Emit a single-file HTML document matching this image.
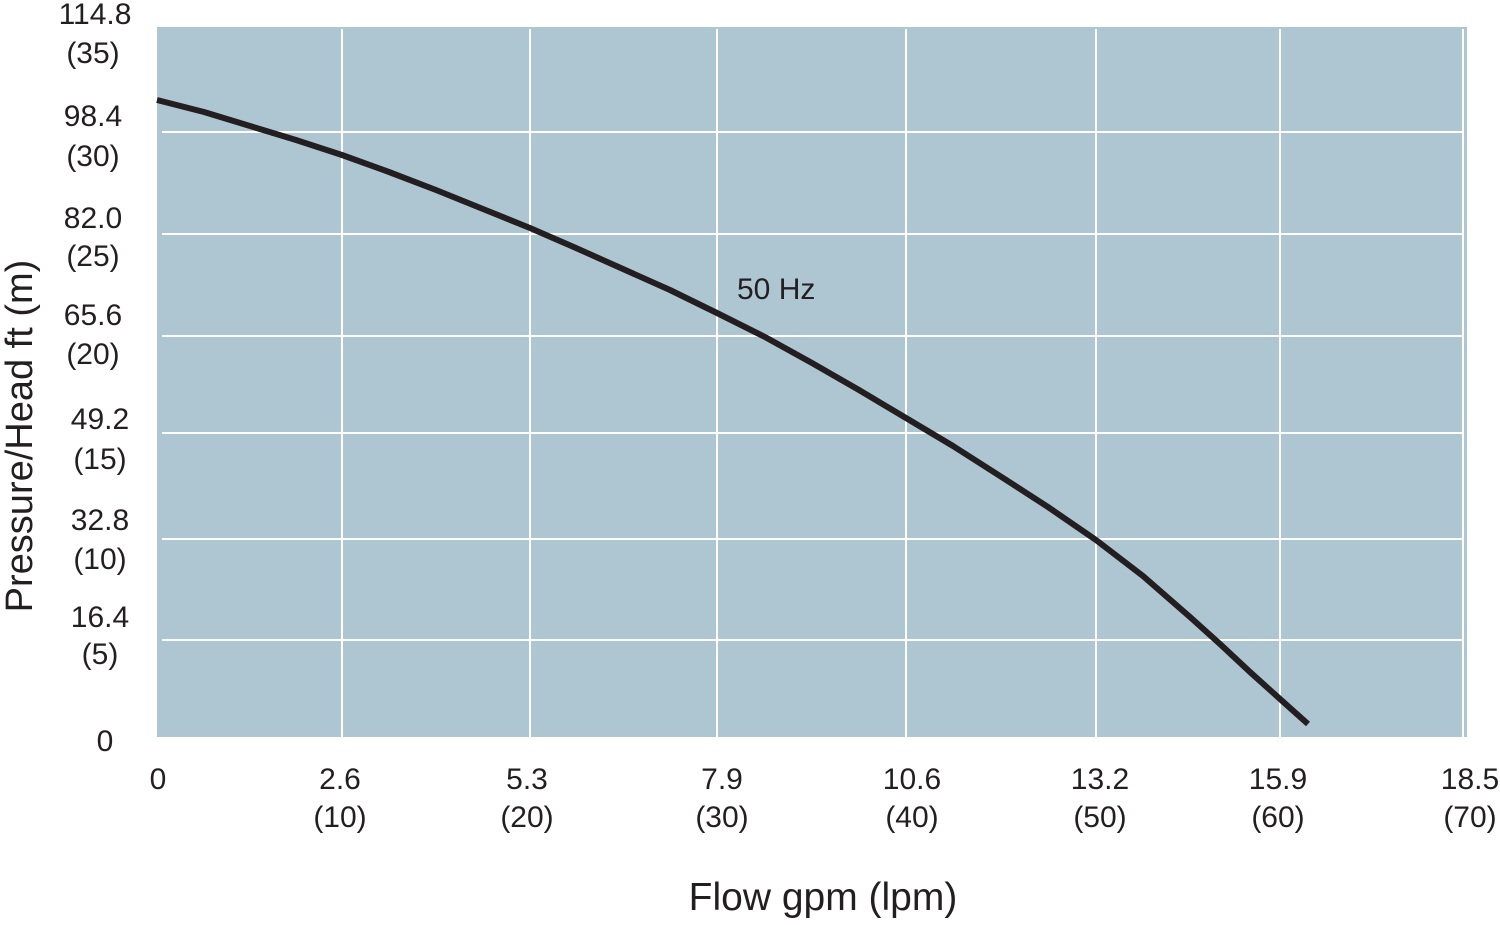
<!DOCTYPE html>
<html><head><style>
body{margin:0;background:#fff;}
svg text{font-family:"Liberation Sans",sans-serif;fill:#231f20;font-size:30px;}
</style></head><body>
<svg width="1500" height="920" xmlns="http://www.w3.org/2000/svg">
<rect x="157" y="27" width="1310" height="710" fill="#aec5d2"/>
<g stroke="#fff" stroke-width="2">
<line x1="342" y1="29" x2="342" y2="737"/>
<line x1="530" y1="29" x2="530" y2="737"/>
<line x1="717" y1="29" x2="717" y2="737"/>
<line x1="906" y1="29" x2="906" y2="737"/>
<line x1="1096" y1="29" x2="1096" y2="737"/>
<line x1="1280" y1="29" x2="1280" y2="737"/>
<line x1="1463" y1="29" x2="1463" y2="737"/>
<line x1="162" y1="132" x2="1463" y2="132"/>
<line x1="162" y1="234" x2="1463" y2="234"/>
<line x1="162" y1="336" x2="1463" y2="336"/>
<line x1="162" y1="433" x2="1463" y2="433"/>
<line x1="162" y1="539" x2="1463" y2="539"/>
<line x1="162" y1="640" x2="1463" y2="640"/>
</g>
<polyline points="157,100 204,112 250,126 296,140 342,155 389,172 436,190 483,209 530,228 576,248 623,269 670,290 717,313 765,337 812,363 859,390 906,418 953,446 1000,476 1048,507 1096,540 1143,576 1190,617 1220,644 1250,672 1280,699 1308,724" fill="none" stroke="#231f20" stroke-width="6" stroke-linejoin="round"/>
<text x="737" y="299">50 Hz</text>
<g text-anchor="middle">
<text x="95" y="24">114.8</text><text x="93" y="63">(35)</text>
<text x="93" y="126">98.4</text><text x="93" y="166">(30)</text>
<text x="93" y="228">82.0</text><text x="93" y="266">(25)</text>
<text x="93" y="325">65.6</text><text x="93" y="364">(20)</text>
<text x="100" y="429">49.2</text><text x="100" y="469">(15)</text>
<text x="100" y="530">32.8</text><text x="100" y="569">(10)</text>
<text x="100" y="627">16.4</text><text x="100" y="664">(5)</text>
<text x="105" y="751">0</text>
<text x="158" y="789">0</text>
<text x="340" y="789">2.6</text><text x="340" y="827">(10)</text>
<text x="527" y="789">5.3</text><text x="527" y="827">(20)</text>
<text x="722" y="789">7.9</text><text x="722" y="827">(30)</text>
<text x="912" y="789">10.6</text><text x="912" y="827">(40)</text>
<text x="1100" y="789">13.2</text><text x="1100" y="827">(50)</text>
<text x="1278" y="789">15.9</text><text x="1278" y="827">(60)</text>
<text x="1470" y="789">18.5</text><text x="1470" y="827">(70)</text>
<text x="823" y="910" style="font-size:39px">Flow gpm (lpm)</text>
<text transform="translate(32,436) rotate(-90)" style="font-size:38px">Pressure/Head ft (m)</text>
</g>
</svg>
</body></html>
